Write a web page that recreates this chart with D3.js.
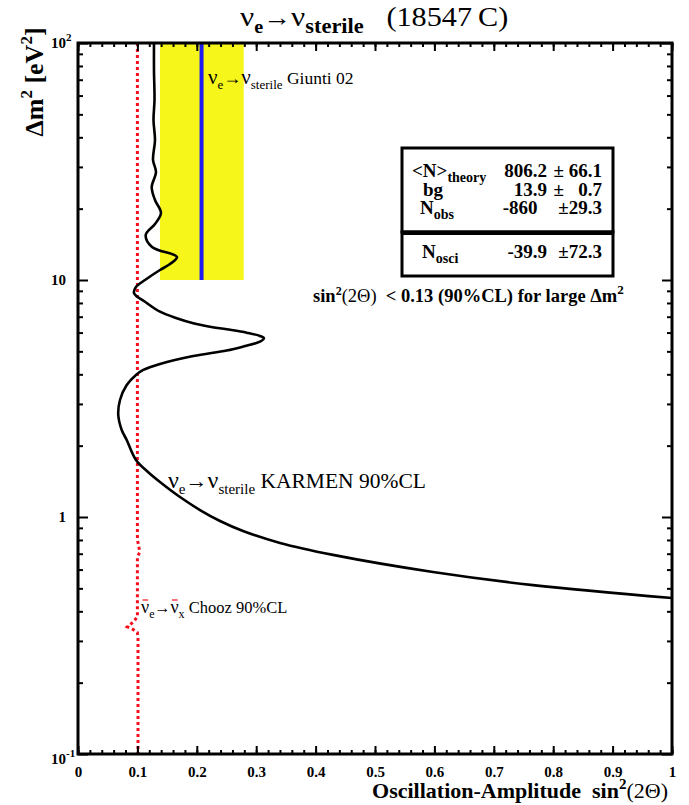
<!DOCTYPE html>
<html>
<head>
<meta charset="utf-8">
<script src="https://cdn.jsdelivr.net/npm/d3@7"></script>
<style>
  body { margin: 0; background: #fff; }
  svg { display: block; }
  text { font-family: "Liberation Serif", "Times New Roman", serif; fill: #000; white-space: pre; }
</style>
</head>
<body>
<svg id="chart" width="689" height="805"></svg>
<script>
// ---- data ----
// axis ticks
const xMajorTicks = [0, 0.1, 0.2, 0.3, 0.4, 0.5, 0.6, 0.7, 0.8, 0.9, 1];
const xTickLabels = ["0", "0.1", "0.2", "0.3", "0.4", "0.5", "0.6", "0.7", "0.8", "0.9", "1"];
const yDecades = [0.1, 1, 10, 100];
const yTickBase = ["10", "1", "10", "10"];
const yTickExp = ["-1", "", "", "2"];

// KARMEN 90% CL exclusion contour (nu_e -> nu_sterile)
const karmenDm2 = [
  100, 76.9, 57.5, 47.3, 38.97, 32.08, 28.56, 24.69, 21.76, 19.17, 17.23, 15.49, 13.78, 12.50,
  11.68, 11.02, 10.0, 9.343, 8.812, 8.000, 7.348, 6.892, 6.566, 6.353, 6.194, 5.993, 5.804, 5.675,
  5.491, 5.241, 5.041, 4.778, 4.422, 4.173, 3.975, 3.606, 3.117, 2.694, 2.329, 2.113, 1.740, 1.548,
  1.405, 1.214, 1.070, 0.962, 0.873, 0.777, 0.692, 0.586, 0.516, 0.455
];
const karmenSin2 = [
  0.1279, 0.1279, 0.1288, 0.1271, 0.1296, 0.1263, 0.1313, 0.1241, 0.1296, 0.1397, 0.1296, 0.1140, 0.1246, 0.1667,
  0.1549, 0.1380, 0.1128, 0.0976, 0.0943, 0.1157, 0.1380, 0.1662, 0.1941, 0.2222, 0.2503, 0.2840, 0.3064, 0.3131,
  0.3064, 0.2783, 0.2503, 0.1941, 0.1380, 0.1099, 0.0976, 0.0820, 0.0707, 0.0678, 0.0736, 0.0820, 0.0976, 0.1178,
  0.1380, 0.1717, 0.2054, 0.2391, 0.2778, 0.3401, 0.4293, 0.5976, 0.7660, 1.0
];

// Chooz 90% CL (anti-nu_e disappearance)
const choozDm2  = [100, 0.80, 0.76, 0.71, 0.68, 0.38, 0.36, 0.344, 0.335, 0.325, 0.31, 0.1];
const choozSin2 = [0.1, 0.1, 0.102, 0.104, 0.1, 0.1, 0.093, 0.083, 0.093, 0.1, 0.101, 0.101];

// Giunti 02 allowed band and best value
const giuntiRange = [0.138, 0.279];
const giuntiBest = 0.208;
const giuntiDm2 = [10, 100];

// event numbers
const tableLabels = ["<N>", "bg", "N", "N"];
const tableSubs = ["theory", "", "obs", "osci"];
const tableValues = ["806.2", "13.9", "-860  ", "-39.9"];
const tableErrors = ["\u00b1 66.1", "\u00b1   0.7", "\u00b129.3", "\u00b172.3"];

// ---- layout ----
const svg = d3.select("#chart");
const plot = { left: 78, right: 672, top: 43, bottom: 754 };
const x = d3.scaleLinear().domain([0, 1]).range([plot.left, plot.right]);
const y = d3.scaleLog().domain([0.1, 100]).range([plot.bottom, plot.top]);

const xMinorTicks = d3.range(0, 51).map(i => i / 50);
const yMinorTicks = [];
[0.1, 1, 10].forEach(d => { for (let k = 2; k <= 9; k++) yMinorTicks.push(d * k); });

const RED = "#f5101e", BLUE = "#1c1cf0", YELLOW = "#f6f61a";

svg.append("defs").append("clipPath").attr("id", "clip")
  .append("rect").attr("x", plot.left).attr("y", plot.top)
  .attr("width", plot.right - plot.left).attr("height", plot.bottom - plot.top);

const area = svg.append("g").attr("clip-path", "url(#clip)");

// Giunti band
area.append("rect")
  .attr("x", x(giuntiRange[0])).attr("width", x(giuntiRange[1]) - x(giuntiRange[0]))
  .attr("y", y(giuntiDm2[1])).attr("height", y(giuntiDm2[0]) - y(giuntiDm2[1]))
  .attr("fill", YELLOW);
area.append("line")
  .attr("x1", x(giuntiBest)).attr("x2", x(giuntiBest))
  .attr("y1", y(giuntiDm2[1])).attr("y2", y(giuntiDm2[0]))
  .attr("stroke", BLUE).attr("stroke-width", 4);

// Chooz contour
const choozPts = choozDm2.map((d, i) => [choozSin2[i], d]);
area.append("path")
  .attr("d", d3.line().x(d => x(d[0])).y(d => y(d[1])).curve(d3.curveLinear)(choozPts))
  .attr("fill", "none").attr("stroke", RED).attr("stroke-width", 3)
  .attr("stroke-dasharray", "3,3");

// KARMEN contour
const karmenPts = karmenDm2.map((d, i) => [karmenSin2[i], d]);
area.append("path")
  .attr("d", d3.line().x(d => x(d[0])).y(d => y(d[1])).curve(d3.curveCatmullRom.alpha(0.5))(karmenPts))
  .attr("fill", "none").attr("stroke", "#000").attr("stroke-width", 2.6)
  .attr("stroke-linejoin", "round");

// ---- axes ----
function styleAxis(g) {
  g.select(".domain").remove();
  g.selectAll(".tick line").attr("stroke", "#000").attr("stroke-width", 2);
}
svg.append("g").attr("transform", `translate(0,${plot.bottom})`)
  .call(d3.axisBottom(x).tickValues(xMinorTicks).tickSize(-4).tickFormat(""))
  .call(styleAxis);
const xAx = svg.append("g").attr("transform", `translate(0,${plot.bottom})`)
  .call(d3.axisBottom(x).tickValues(xMajorTicks).tickSize(-8).tickPadding(12)
    .tickFormat((d, i) => xTickLabels[i]))
  .call(styleAxis);
xAx.selectAll(".tick text")
  .attr("font-family", "Liberation Serif, serif").attr("font-size", 15)
  .attr("font-weight", "bold").attr("fill", "#000");

svg.append("g").attr("transform", `translate(0,${plot.top})`)
  .call(d3.axisTop(x).tickValues(xMinorTicks).tickSize(-4).tickFormat(""))
  .call(styleAxis);
svg.append("g").attr("transform", `translate(0,${plot.top})`)
  .call(d3.axisTop(x).tickValues(xMajorTicks).tickSize(-8).tickFormat(""))
  .call(styleAxis);

svg.append("g").attr("transform", `translate(${plot.left},0)`)
  .call(d3.axisLeft(y).tickValues(yMinorTicks).tickSize(-5).tickFormat(""))
  .call(styleAxis);
svg.append("g").attr("transform", `translate(${plot.left},0)`)
  .call(d3.axisLeft(y).tickValues(yDecades).tickSize(-10).tickFormat(""))
  .call(styleAxis);
svg.append("g").attr("transform", `translate(${plot.right},0)`)
  .call(d3.axisRight(y).tickValues(yMinorTicks).tickSize(-5).tickFormat(""))
  .call(styleAxis);
svg.append("g").attr("transform", `translate(${plot.right},0)`)
  .call(d3.axisRight(y).tickValues(yDecades).tickSize(-10).tickFormat(""))
  .call(styleAxis);

// frame
svg.append("rect")
  .attr("x", plot.left).attr("y", plot.top)
  .attr("width", plot.right - plot.left).attr("height", plot.bottom - plot.top)
  .attr("fill", "none").attr("stroke", "#000").attr("stroke-width", 3);

// y tick labels
yDecades.forEach((d, i) => {
  const yy = y(d) + (i === 0 ? 10 : 5);
  svg.append("text").attr("x", 66).attr("y", yy).attr("text-anchor", "end")
    .attr("font-size", 15).attr("font-weight", "bold").text(yTickBase[i]);
  if (yTickExp[i]) {
    svg.append("text").attr("x", 66).attr("y", yy - 7)
      .attr("font-size", 11).attr("font-weight", "bold").text(yTickExp[i]);
  }
});

// ---- rich text helper ----
function rich(parent, xPos, yPos, parts, attrs = {}) {
  const t = parent.append("text").attr("x", xPos).attr("y", yPos);
  Object.entries(attrs).forEach(([k, v]) => t.attr(k, v));
  parts.forEach(p => {
    const s = t.append("tspan").text(p.t);
    if (p.size) s.attr("font-size", p.size);
    if (p.weight) s.attr("font-weight", p.weight);
    if (p.shift) s.attr("baseline-shift", p.shift);
  });
  return t;
}

// title (slightly widened face)
rich(svg, 0, 0, [
  { t: "\u03bd", size: 28 },
  { t: "e", size: 18, weight: "bold", shift: -7 },
  { t: "\u2192", size: 25 },
  { t: "\u03bd", size: 28 },
  { t: "sterile", size: 20, weight: "bold", shift: -7 },
  { t: "   (18547\u2009C)", size: 27 }
], { transform: "translate(240,26) scale(1.12,1)" });

// y axis title
rich(svg, 0, 0, [
  { t: "\u0394m", size: 26, weight: "bold" },
  { t: "2", size: 17, weight: "bold", shift: 11 },
  { t: " [eV", size: 26, weight: "bold" },
  { t: "2", size: 17, weight: "bold", shift: 11 },
  { t: "]", size: 26, weight: "bold" }
], { "text-anchor": "middle", transform: "translate(43,82) rotate(-90)" });

// x axis title
rich(svg, 668, 798, [
  { t: "Oscillation-Amplitude  sin", size: 22, weight: "bold" },
  { t: "2", size: 15, weight: "bold", shift: 9 },
  { t: "(2\u0398)", size: 22 }
], { "text-anchor": "end" });

// Giunti label
rich(svg, 208, 84, [
  { t: "\u03bd", size: 21 },
  { t: "e", size: 13, shift: -5 },
  { t: "\u2192", size: 18 },
  { t: "\u03bd", size: 21 },
  { t: "sterile", size: 13, shift: -5 },
  { t: " Giunti 02", size: 17.5 }
], { fill: BLUE });

// KARMEN label
rich(svg, 168, 488, [
  { t: "\u03bd", size: 24 },
  { t: "e", size: 15, shift: -6 },
  { t: "\u2192", size: 22 },
  { t: "\u03bd", size: 24 },
  { t: "sterile", size: 15, shift: -6 },
  { t: " KARMEN 90%CL", size: 21.5 }
]);

// Chooz label, with bars over the anti-neutrinos
const chooz = rich(svg, 141, 613, [
  { t: "\u03bd", size: 18 },
  { t: "e", size: 12, shift: -5 },
  { t: "\u2192", size: 16 },
  { t: "\u03bd", size: 18 },
  { t: "x", size: 12, shift: -5 },
  { t: " Chooz 90%CL", size: 16.5 }
], { fill: RED });
[0, 3].forEach(ci => {
  const r = chooz.node().getExtentOfChar(ci);
  svg.append("line")
    .attr("x1", r.x + 1.5).attr("x2", r.x + r.width - 1)
    .attr("y1", 613 - 13).attr("y2", 613 - 13)
    .attr("stroke", RED).attr("stroke-width", 1.2);
});

// limit statement
rich(svg, 313, 302, [
  { t: "sin", size: 18.5, weight: "bold" },
  { t: "2", size: 12, weight: "bold", shift: 7 },
  { t: "(2\u0398)", size: 18.5 },
  { t: "  < 0.13 (90%CL) for large \u0394m", size: 18.5, weight: "bold" },
  { t: "2", size: 13, weight: "bold", shift: 8 }
]);

// event table
const tbl = svg.append("g");
tbl.append("rect").attr("x", 402).attr("y", 148).attr("width", 211).attr("height", 84)
  .attr("fill", "#fff").attr("stroke", "#000").attr("stroke-width", 3);
tbl.append("rect").attr("x", 402).attr("y", 232).attr("width", 211).attr("height", 44)
  .attr("fill", "#fff").attr("stroke", "#000").attr("stroke-width", 3);
tbl.append("line").attr("x1", 402).attr("x2", 613).attr("y1", 233).attr("y2", 233)
  .attr("stroke", "#000").attr("stroke-width", 4);
const rowY = [177, 196, 214, 258];
const rowX = [412, 423, 420, 422];
tableLabels.forEach((lab, i) => {
  const parts = [{ t: lab, size: 19, weight: "bold" }];
  if (tableSubs[i]) parts.push({ t: tableSubs[i], size: 14, weight: "bold", shift: -5 });
  rich(tbl, rowX[i], rowY[i], parts);
  tbl.append("text").attr("x", 547).attr("y", rowY[i]).attr("text-anchor", "end")
    .attr("font-size", 19).attr("font-weight", "bold").text(tableValues[i]);
  tbl.append("text").attr("x", 602).attr("y", rowY[i]).attr("text-anchor", "end")
    .attr("font-size", 19).attr("font-weight", "bold").text(tableErrors[i]);
});
</script>
</body>
</html>
